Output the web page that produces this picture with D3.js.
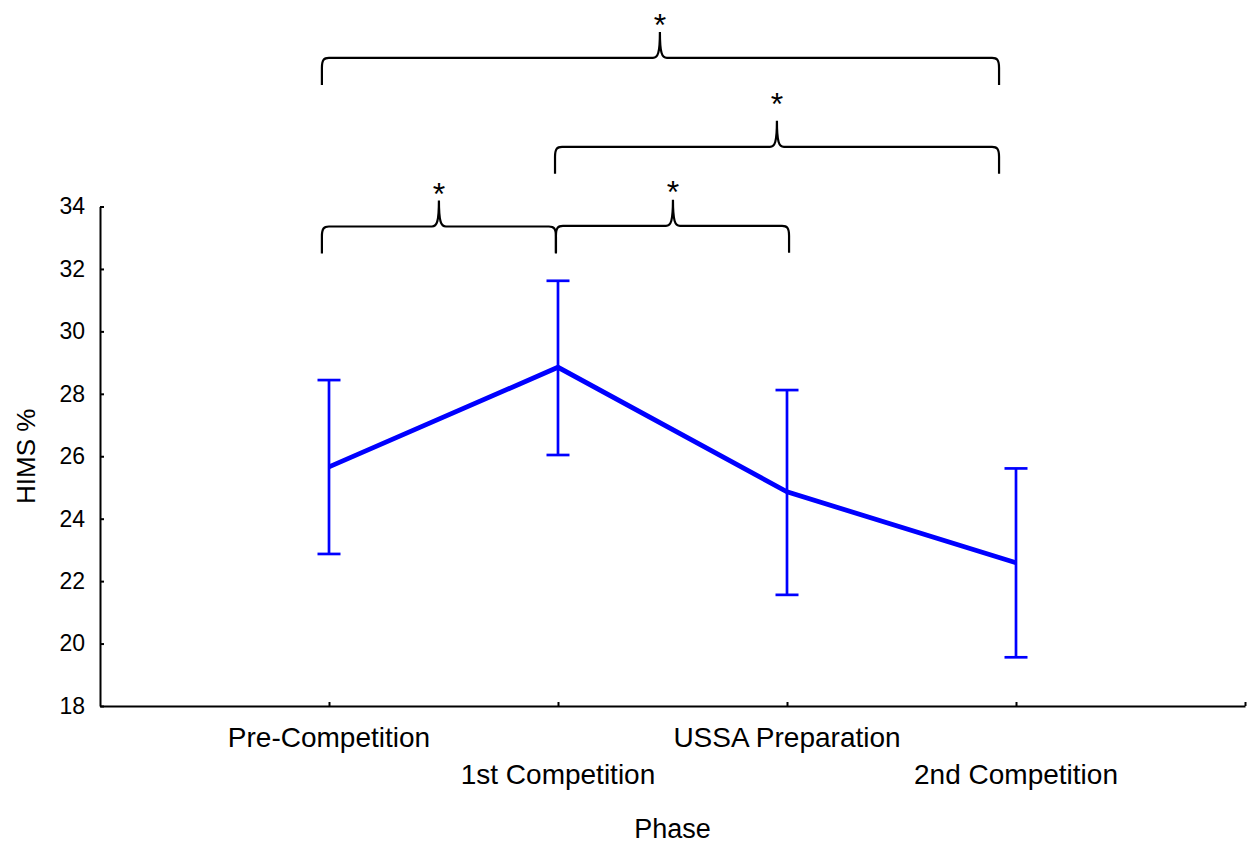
<!DOCTYPE html>
<html>
<head>
<meta charset="utf-8">
<script src="https://cdn.jsdelivr.net/npm/d3@7"></script>
<style>
  html, body { margin: 0; padding: 0; background: #fff; }
  svg { display: block; font-family: "Liberation Sans", Arial, Helvetica, sans-serif; }
</style>
</head>
<body>
<svg id="chart" width="1247" height="845"></svg>
<script>
// Phase means of HIMS % with their error-bar limits
const phases = ["Pre-Competition", "1st Competition", "USSA Preparation", "2nd Competition"];
const means  = [25.66, 28.85, 24.86, 22.59];
const upper  = [28.44, 31.62, 28.12, 25.61];
const lower  = [22.87, 26.04, 21.56, 19.56];
const yTicks = [18, 20, 22, 24, 26, 28, 30, 32, 34];

// Significance braces: span (phase axis units), peak position, level and mark baseline (HIMS % units)
const braceFrom      = [0.969, 1.987, 0.969, 1.991];
const braceTo        = [3.926, 3.926, 1.991, 3.009];
const bracePeak      = [2.445, 2.956, 1.480, 2.502];
const braceLevel     = [38.76, 35.91, 33.36, 33.38];
const braceMarkLevel = [39.47, 36.94, 34.06, 34.12];
const braceMark      = ["*", "*", "*", "*"];

const svg = d3.select("#chart");
const x = d3.scaleLinear().domain([0, 5]).range([100, 1245]);
const y = d3.scaleLinear().domain([18, 34]).range([706, 206.5]);

// Axes
const yAxis = svg.append("g")
  .attr("transform", `translate(${x(0)},0)`)
  .call(d3.axisLeft(y).tickValues(yTicks).tickSizeInner(-4).tickSizeOuter(0).tickPadding(15));
yAxis.select(".domain").attr("stroke", "#000").attr("stroke-width", 2);
yAxis.selectAll(".tick line").attr("stroke", "#000").attr("stroke-width", 2);
yAxis.selectAll(".tick text").attr("font-size", 23).attr("fill", "#000")
  .attr("font-family", "\"Liberation Sans\", Arial, sans-serif");

const xAxis = svg.append("g")
  .attr("transform", `translate(0,${y(18)})`)
  .call(d3.axisBottom(x).tickValues([1, 2, 3, 4, 5]).tickSizeInner(-4).tickSizeOuter(0).tickFormat(() => ""));
xAxis.select(".domain").attr("stroke", "#000").attr("stroke-width", 2);
xAxis.selectAll(".tick line").attr("stroke", "#000").attr("stroke-width", 2);

// Category labels on two staggered rows
svg.append("g").selectAll("text")
  .data(phases)
  .join("text")
  .attr("x", (d, i) => x(i + 1))
  .attr("y", (d, i) => y(18) + (i % 2 === 0 ? 41 : 78))
  .attr("text-anchor", "middle")
  .attr("font-size", 28)
  .attr("fill", "#000")
  .text(d => d);

// Axis titles
svg.append("text")
  .attr("x", (x(0) + x(5)) / 2)
  .attr("y", 838)
  .attr("text-anchor", "middle")
  .attr("font-size", 27)
  .attr("fill", "#000")
  .text("Phase");

svg.append("text")
  .attr("transform", `translate(35,${(y(18) + y(34)) / 2}) rotate(-90)`)
  .attr("text-anchor", "middle")
  .attr("font-size", 26)
  .attr("fill", "#000")
  .text("HIMS %");

// Error bars
const bars = svg.append("g").attr("stroke", "#0000ff").attr("stroke-width", 2.7).attr("fill", "none");
const capHalf = 11.5;
phases.forEach((p, i) => {
  const cx = x(i + 1);
  bars.append("line").attr("x1", cx).attr("x2", cx).attr("y1", y(upper[i])).attr("y2", y(lower[i]));
  bars.append("line").attr("x1", cx - capHalf).attr("x2", cx + capHalf).attr("y1", y(upper[i])).attr("y2", y(upper[i]));
  bars.append("line").attr("x1", cx - capHalf).attr("x2", cx + capHalf).attr("y1", y(lower[i])).attr("y2", y(lower[i]));
});

// Mean line
svg.append("path")
  .datum(means)
  .attr("fill", "none")
  .attr("stroke", "#0000ff")
  .attr("stroke-width", 4.8)
  .attr("stroke-linejoin", "miter")
  .attr("d", d3.line().x((d, i) => x(i + 1)).y(d => y(d)));

// Curly braces with significance marks
function bracePath(x0, x1, xp, ly) {
  const drop = 27, cusp = 26, r = 7, hw = 7;
  return [
    `M${x0},${ly + drop}`,
    `L${x0},${ly + r + 3}`,
    `C${x0},${ly + 2} ${x0 + 2},${ly} ${x0 + r},${ly}`,
    `L${xp - hw},${ly}`,
    `C${xp - 2},${ly} ${xp},${ly - 5} ${xp},${ly - cusp}`,
    `C${xp},${ly - 5} ${xp + 2},${ly} ${xp + hw},${ly}`,
    `L${x1 - r},${ly}`,
    `C${x1 - 2},${ly} ${x1},${ly + 2} ${x1},${ly + r + 3}`,
    `L${x1},${ly + drop}`
  ].join(" ");
}

const braces = svg.append("g");
braceFrom.forEach((f, i) => {
  const ly = y(braceLevel[i]);
  const xp = x(bracePeak[i]);
  braces.append("path")
    .attr("d", bracePath(x(f), x(braceTo[i]), xp, ly))
    .attr("fill", "none")
    .attr("stroke", "#000")
    .attr("stroke-width", 2.2);
  braces.append("text")
    .attr("x", xp)
    .attr("y", y(braceMarkLevel[i]))
    .attr("text-anchor", "middle")
    .attr("font-size", 32)
    .attr("fill", "#000")
    .text(braceMark[i]);
});
</script>
</body>
</html>
